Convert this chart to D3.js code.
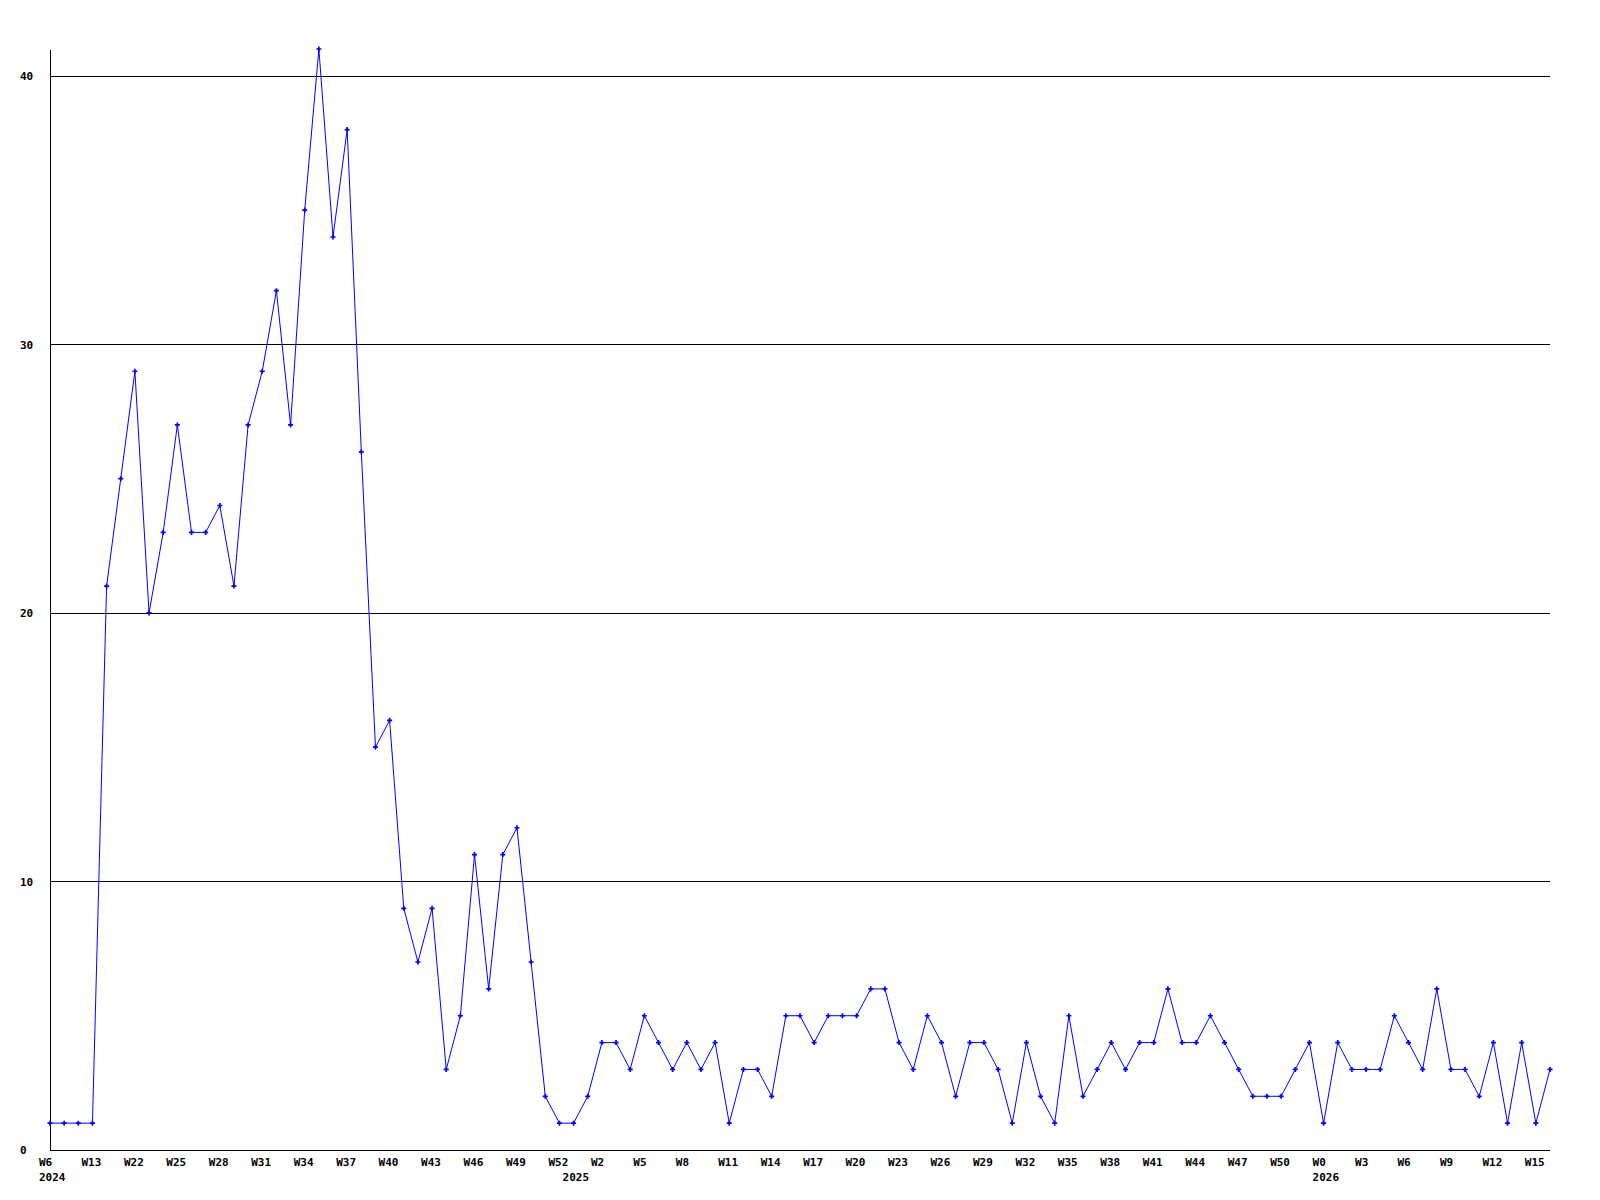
<!DOCTYPE html>
<html>
<head>
<meta charset="utf-8">
<script src="https://cdn.jsdelivr.net/npm/d3@7"></script>
<style>
  body { margin: 0; background: #fff; }
  text { font-family: "DejaVu Sans Mono", monospace; font-weight: bold; font-size: 11px; fill: #000; }
</style>
</head>
<body>
<div class="chart"></div>
<script>
// weekly counts, one per point
const counts = [
  1, 1, 1, 1, 21, 25, 29, 20, 23, 27, 23, 23, 24, 21, 27, 29, 32, 27, 35, 41,
  34, 38, 26, 15, 16, 9, 7, 9, 3, 5, 11, 6, 11, 12, 7, 2, 1, 1, 2, 4,
  4, 3, 5, 4, 3, 4, 3, 4, 1, 3, 3, 2, 5, 5, 4, 5, 5, 5, 6, 6,
  4, 3, 5, 4, 2, 4, 4, 3, 1, 4, 2, 1, 5, 2, 3, 4, 3, 4, 4, 6,
  4, 4, 5, 4, 3, 2, 2, 2, 3, 4, 1, 4, 3, 3, 3, 5, 4, 3, 6, 3,
  3, 2, 4, 1, 4, 1, 3
];
// labels on every third point
const weekLabels = [
  "W6", "W13", "W22", "W25", "W28", "W31", "W34", "W37", "W40", "W43", "W46", "W49",
  "W52", "W2", "W5", "W8", "W11", "W14", "W17", "W20", "W23", "W26", "W29", "W32",
  "W35", "W38", "W41", "W44", "W47", "W50", "W0", "W3", "W6", "W9", "W12", "W15"
];
const yearLabels = ["2024", "2025", "2026"];
const yearStarts = [0, 37, 90];
const yTicks = [0, 10, 20, 30, 40];

const width = 1600, height = 1200;
const plot = {left: 50, right: 1550, top: 50, bottom: 1150};

const svg = d3.select(".chart").append("svg")
  .attr("width", width)
  .attr("height", height);

const x = d3.scaleLinear().domain([0, counts.length - 1]).range([plot.left, plot.right]);
const y = d3.scaleLinear().domain([0, 41]).range([plot.bottom, plot.top - 1]);

// grid lines + y labels
const yAxis = d3.axisLeft(y).tickValues(yTicks).tickSize(-(plot.right - plot.left)).tickFormat(d3.format("d"));
const gY = svg.append("g")
  .attr("transform", `translate(${plot.left},0)`)
  .call(yAxis);
gY.select(".domain").remove();
gY.selectAll(".tick line")
  .attr("stroke", "#000")
  .attr("shape-rendering", "crispEdges")
  .filter(d => d === 0).remove();
gY.selectAll(".tick text")
  .attr("x", 20 - plot.left)
  .attr("text-anchor", "start")
  .attr("dy", "0.35em");

// axis lines
svg.append("line")
  .attr("x1", plot.left).attr("x2", plot.left).attr("y1", plot.top).attr("y2", plot.bottom)
  .attr("stroke", "#000").attr("shape-rendering", "crispEdges");
svg.append("line")
  .attr("x1", plot.left).attr("x2", plot.right).attr("y1", plot.bottom).attr("y2", plot.bottom)
  .attr("stroke", "#000").attr("shape-rendering", "crispEdges");

// x labels
svg.append("g").selectAll("text")
  .data(weekLabels)
  .join("text")
  .attr("x", (d, i) => x(i * 3) - 11)
  .attr("y", plot.bottom + 12)
  .attr("dy", "0.35em")
  .text(d => d);

svg.append("g").selectAll("text")
  .data(yearLabels)
  .join("text")
  .attr("x", (d, i) => x(yearStarts[i]) - 11)
  .attr("y", plot.bottom + 27)
  .attr("dy", "0.35em")
  .text(d => d);

// series
const line = d3.line()
  .x((d, i) => x(i))
  .y(d => y(d));

svg.append("path")
  .datum(counts)
  .attr("fill", "none")
  .attr("stroke", "#0000ff")
  .attr("stroke-width", 1)
  .attr("d", line);

svg.append("g").selectAll("path")
  .data(counts)
  .join("path")
  .attr("transform", (d, i) => `translate(${x(i)},${y(d)})`)
  .attr("d", d3.symbol(d3.symbolCross).size(14))
  .attr("fill", "#0000ff");
</script>
</body>
</html>
